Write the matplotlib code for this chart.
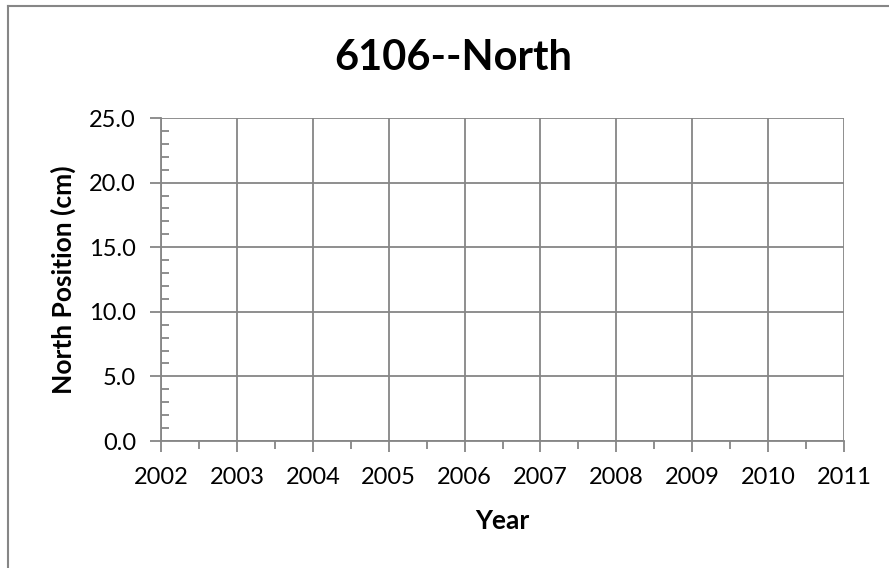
import matplotlib.pyplot as plt
from matplotlib.lines import Line2D
import numpy as np

plt.rcParams['font.family'] = ['Lato', 'DejaVu Sans']

# the series is empty in the source chart
years = []
north_cm = []

x_ticks = [2002, 2003, 2004, 2005, 2006, 2007, 2008, 2009, 2010, 2011]
y_ticks = [0.0, 5.0, 10.0, 15.0, 20.0, 25.0]

grey = '#868686'

fig = plt.figure(figsize=(8.89, 5.68), dpi=100)
ax = fig.add_axes([161 / 889, 1 - 441 / 568, (844 - 161) / 889, (441 - 118) / 568])

ax.plot(years, north_cm, color='#4F81BD')
ax.set_xlim(x_ticks[0], x_ticks[-1])
ax.set_ylim(y_ticks[0], y_ticks[-1])
ax.set_xticks(x_ticks)
ax.set_xticklabels([str(t) for t in x_ticks])
ax.set_yticks(y_ticks)
ax.set_yticklabels([f"{t:.1f}" for t in y_ticks])
ax.set_xticks(np.arange(x_ticks[0] + 0.5, x_ticks[-1], 1.0), minor=True)
ax.set_yticks(np.arange(y_ticks[0], y_ticks[-1] + 0.1, 1.0), minor=True)

ax.grid(True, which='major', color=grey, linewidth=1.3)
for s in ['top', 'right']:
    ax.spines[s].set_visible(False)
for s in ['left', 'bottom']:
    ax.spines[s].set_color(grey)
    ax.spines[s].set_linewidth(1.3)

ax.tick_params(axis='both', which='major', color=grey, width=1.3, length=8,
               labelsize=17, direction='out')
ax.tick_params(axis='x', which='major', pad=11)
ax.tick_params(axis='y', which='major', pad=10)
ax.tick_params(axis='y', which='minor', color=grey, width=1.3, length=6, direction='in')
ax.tick_params(axis='x', which='minor', color=grey, width=1.3, length=6, direction='out')

# title is centred on the chart area, not on the plot
fig.text(453 / 889, 1 - 70 / 568, '6106--North', fontsize=30, fontweight='bold',
         ha='center', va='baseline')
fig.text((161 + 844) / 2 / 889, 1 - 529 / 568, 'Year', fontsize=19, fontweight='bold',
         ha='center', va='baseline')
fig.text(63 / 889, 1 - 280 / 568, 'North Position (cm)', fontsize=19, fontweight='bold',
         rotation=90, ha='center', va='center')

# chart border (cut off at right and bottom)
fig.add_artist(Line2D([8 / 889, 1], [1 - 6 / 568, 1 - 6 / 568], transform=fig.transFigure,
                      color=grey, linewidth=1.5))
fig.add_artist(Line2D([8 / 889, 8 / 889], [0, 1 - 6 / 568], transform=fig.transFigure,
                      color=grey, linewidth=1.5))

fig.savefig('out.png', dpi=100)
